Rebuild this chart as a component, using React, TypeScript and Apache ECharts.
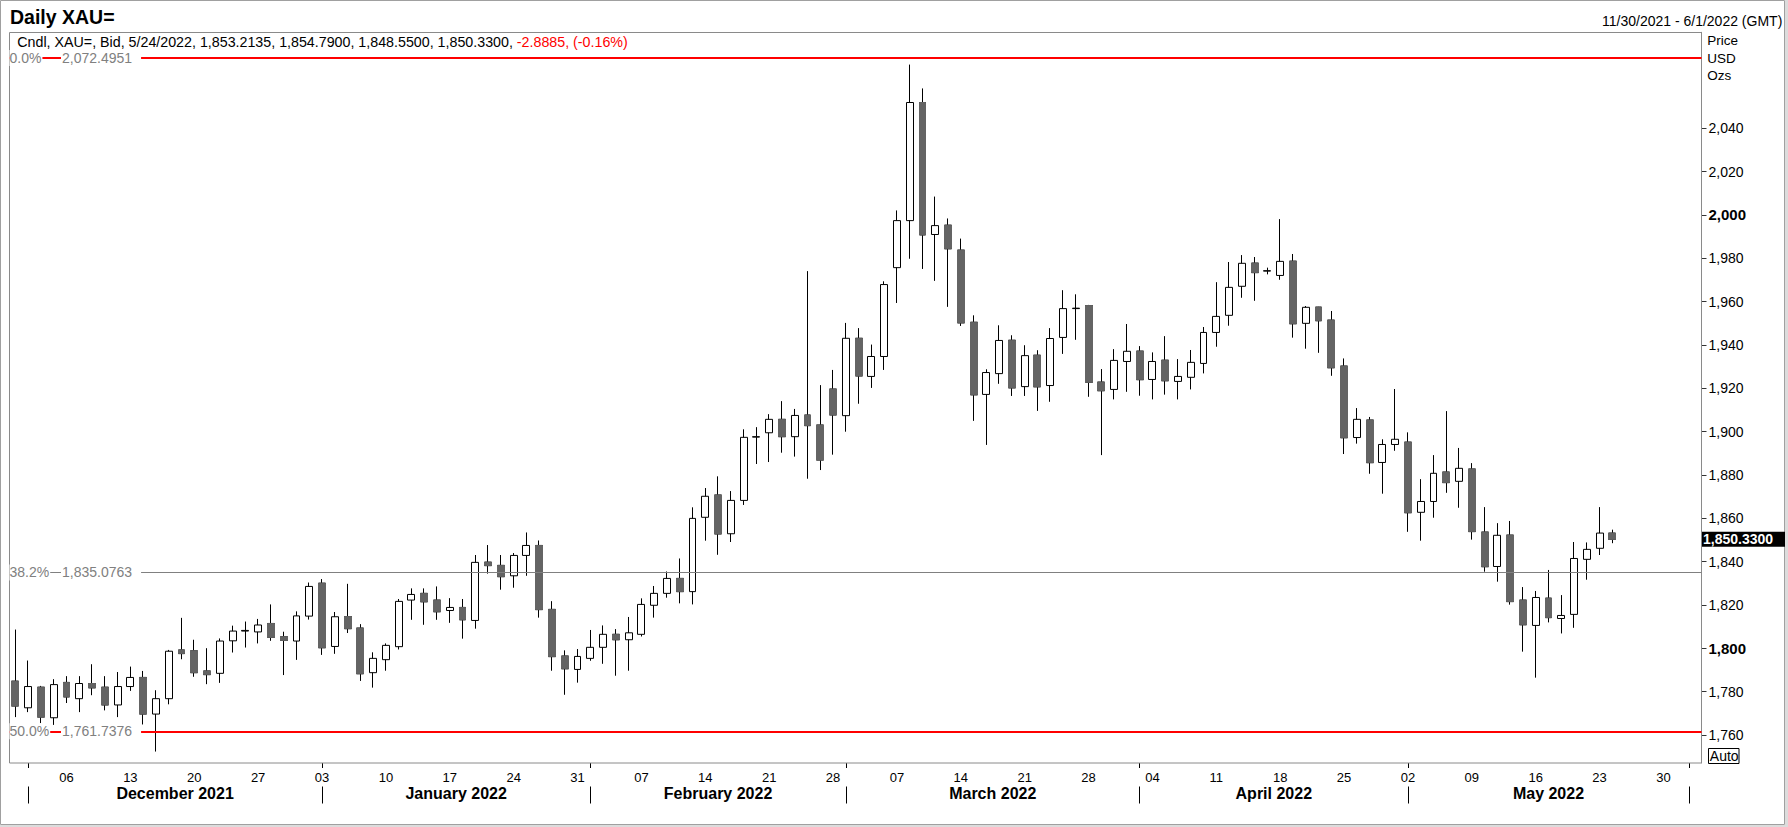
import React, { useEffect, useRef } from 'react';
import * as echarts from 'echarts';

const FONT = "'Liberation Sans', Arial, Helvetica, sans-serif";

// Trading days on the axis (weekdays), by month
const TRADING_DAYS: [string, number[]][] = [
  ['2021-11', [30]],
  ['2021-12', [1, 2, 3, 6, 7, 8, 9, 10, 13, 14, 15, 16, 17, 20, 21, 22, 23, 24, 27, 28, 29, 30, 31]],
  ['2022-01', [3, 4, 5, 6, 7, 10, 11, 12, 13, 14, 17, 18, 19, 20, 21, 24, 25, 26, 27, 28, 31]],
  ['2022-02', [1, 2, 3, 4, 7, 8, 9, 10, 11, 14, 15, 16, 17, 18, 21, 22, 23, 24, 25, 28]],
  ['2022-03', [1, 2, 3, 4, 7, 8, 9, 10, 11, 14, 15, 16, 17, 18, 21, 22, 23, 24, 25, 28, 29, 30, 31]],
  ['2022-04', [1, 4, 5, 6, 7, 8, 11, 12, 13, 14, 15, 18, 19, 20, 21, 22, 25, 26, 27, 28, 29]],
  ['2022-05', [2, 3, 4, 5, 6, 9, 10, 11, 12, 13, 16, 17, 18, 19, 20, 23, 24, 25, 26, 27, 30, 31]],
  ['2022-06', [1]],
];

const MONTH_NAMES: Record<string, string> = {
  '2021-12': 'December 2021',
  '2022-01': 'January 2022',
  '2022-02': 'February 2022',
  '2022-03': 'March 2022',
  '2022-04': 'April 2022',
  '2022-05': 'May 2022',
};

const OPEN = [
  1784.9, 1772.6, 1782.1, 1768.0, 1784.3, 1776.8, 1783.8, 1782.1, 1773.9, 1782.4,
  1786.6, 1769.7, 1776.8, 1799.3, 1798.9, 1789.6, 1788.5, 1803.5, 1808.0, 1807.6,
  1811.5, 1805.4, 1803.4, 1814.9, 1830.1, 1800.9, 1814.7, 1809.4, 1788.8, 1794.8,
  1800.8, 1822.3, 1825.4, 1822.3, 1817.5, 1818.9, 1812.9, 1839.8, 1838.3, 1833.5,
  1842.9, 1847.5, 1818.0, 1796.5, 1790.3, 1795.4, 1800.5, 1806.5, 1804.0, 1806.5,
  1819.9, 1825.4, 1832.3, 1826.2, 1860.5, 1870.8, 1852.9, 1868.3, 1897.5, 1899.5,
  1905.7, 1897.7, 1907.7, 1903.1, 1919.7, 1907.4, 1943.1, 1925.5, 1934.7, 1975.7,
  1997.4, 2051.9, 1991.0, 1995.3, 1983.8, 1950.5, 1917.2, 1926.8, 1942.2, 1920.8,
  1935.3, 1921.3, 1943.5, 1956.8, 1958.2, 1922.9, 1919.5, 1932.4, 1937.2, 1924.1,
  1933.0, 1923.2, 1925.1, 1931.5, 1945.8, 1953.7, 1967.1, 1977.8, 1974.1, 1972.1,
  1978.7, 1950.0, 1957.5, 1951.5, 1930.3, 1897.3, 1905.4, 1885.8, 1894.1, 1895.2,
  1862.8, 1867.8, 1881.4, 1877.1, 1882.8, 1853.7, 1837.8, 1852.3, 1822.3, 1810.6,
  1823.2, 1813.8, 1815.7, 1841.1, 1846.2, 1853.2135,
];

const HIGH = [
  1808.7, 1794.4, 1782.7, 1785.8, 1787.2, 1787.2, 1792.7, 1787.2, 1789.1, 1791.6,
  1789.6, 1780.7, 1799.3, 1814.1, 1804.0, 1800.1, 1804.6, 1810.5, 1812.4, 1813.6,
  1820.3, 1807.7, 1817.1, 1830.4, 1832.0, 1816.8, 1829.8, 1811.2, 1798.2, 1802.3,
  1822.8, 1827.7, 1827.7, 1828.6, 1823.2, 1822.8, 1843.1, 1847.7, 1843.1, 1844.0,
  1853.5, 1849.8, 1821.8, 1799.1, 1799.7, 1808.5, 1810.6, 1808.9, 1814.5, 1823.1,
  1828.8, 1835.5, 1841.5, 1865.1, 1874.0, 1879.4, 1872.6, 1901.1, 1902.1, 1908.1,
  1914.1, 1910.5, 1974.1, 1921.5, 1928.5, 1950.2, 1947.8, 1940.2, 1969.4, 2002.1,
  2069.4, 2058.4, 2008.5, 1998.4, 1989.1, 1953.7, 1928.8, 1949.1, 1944.5, 1939.9,
  1937.6, 1947.8, 1965.3, 1963.4, 1958.5, 1928.9, 1938.1, 1949.7, 1939.5, 1936.6,
  1944.1, 1933.5, 1937.7, 1948.3, 1969.0, 1978.3, 1981.5, 1980.6, 1975.7, 1998.1,
  1982.0, 1958.0, 1957.6, 1955.7, 1933.8, 1910.9, 1906.8, 1896.5, 1919.7, 1899.7,
  1878.1, 1889.2, 1909.5, 1892.5, 1885.5, 1865.2, 1857.8, 1858.8, 1828.3, 1826.5,
  1836.2, 1824.6, 1849.1, 1848.9, 1865.2, 1854.79,
];

const LOW = [
  1768.3, 1770.6, 1765.5, 1764.7, 1774.8, 1770.6, 1778.4, 1771.4, 1768.3, 1780.4,
  1764.9, 1752.4, 1774.2, 1795.0, 1786.9, 1783.5, 1784.1, 1798.1, 1800.4, 1802.3,
  1803.5, 1787.7, 1794.7, 1813.3, 1797.0, 1797.5, 1807.1, 1785.0, 1781.9, 1789.7,
  1799.5, 1813.2, 1810.9, 1813.2, 1811.8, 1804.5, 1809.1, 1834.5, 1827.1, 1828.0,
  1833.5, 1814.2, 1789.7, 1778.6, 1784.2, 1794.3, 1792.9, 1787.4, 1789.7, 1805.5,
  1814.2, 1823.4, 1820.8, 1820.3, 1849.7, 1843.2, 1849.1, 1866.2, 1885.1, 1886.0,
  1890.3, 1888.5, 1878.3, 1882.3, 1889.4, 1900.0, 1912.9, 1920.2, 1928.5, 1959.4,
  1979.8, 1975.1, 1969.6, 1957.6, 1948.8, 1905.0, 1893.9, 1922.1, 1916.5, 1916.5,
  1909.6, 1913.8, 1935.9, 1942.4, 1916.1, 1889.2, 1914.9, 1918.4, 1916.6, 1914.9,
  1917.1, 1914.9, 1919.5, 1926.9, 1939.2, 1948.9, 1961.8, 1960.4, 1972.6, 1970.1,
  1943.4, 1938.3, 1936.4, 1925.8, 1889.7, 1894.5, 1880.6, 1871.4, 1891.2, 1853.8,
  1849.7, 1860.3, 1871.8, 1864.9, 1850.2, 1835.4, 1830.8, 1820.2, 1798.5, 1786.5,
  1812.0, 1806.9, 1809.5, 1831.7, 1843.1, 1848.55,
];

const CLOSE = [
  1773.4, 1782.4, 1768.3, 1783.3, 1777.6, 1783.8, 1781.8, 1773.9, 1782.4, 1786.6,
  1769.7, 1776.8, 1798.7, 1797.6, 1788.8, 1787.9, 1803.4, 1808.0, 1808.3, 1810.8,
  1805.1, 1803.7, 1815.0, 1828.6, 1800.3, 1814.6, 1809.1, 1788.3, 1795.4, 1801.4,
  1821.7, 1824.9, 1821.5, 1816.9, 1818.9, 1813.2, 1839.7, 1838.2, 1833.1, 1842.9,
  1847.5, 1817.9, 1796.2, 1790.6, 1796.3, 1800.5, 1806.5, 1804.0, 1807.2, 1820.3,
  1825.4, 1832.3, 1826.2, 1860.0, 1870.2, 1852.8, 1868.3, 1897.4, 1897.7, 1905.7,
  1897.7, 1907.5, 1902.8, 1886.9, 1907.7, 1943.1, 1925.7, 1934.7, 1967.9, 1997.4,
  2051.9, 1990.8, 1995.1, 1984.4, 1950.2, 1917.0, 1927.3, 1942.1, 1920.2, 1935.1,
  1920.7, 1943.0, 1956.8, 1957.0, 1922.8, 1918.9, 1932.9, 1937.1, 1924.0, 1932.4,
  1923.5, 1925.5, 1932.0, 1945.8, 1953.2, 1966.6, 1977.7, 1973.4, 1974.3, 1978.6,
  1949.8, 1957.4, 1951.2, 1929.5, 1897.2, 1905.7, 1885.7, 1894.1, 1896.5, 1862.6,
  1867.8, 1880.8, 1876.5, 1883.1, 1853.9, 1837.7, 1852.2, 1821.6, 1810.9, 1823.5,
  1814.2, 1815.2, 1841.5, 1845.7, 1853.2185, 1850.33,
];

const Y_TICKS = [1760, 1780, 1800, 1820, 1840, 1860, 1880, 1900, 1920, 1940, 1960, 1980, 2000, 2020, 2040];
const Y_BOLD = [1800, 2000];

const FIB_PCT = ['0.0%', '38.2%', '50.0%'];
const FIB_VALUE = [2072.4951, 1835.0763, 1761.7376];
const FIB_COLOR = ['#ff0000', '#808080', '#ff0000'];
const FIB_WIDTH = [2, 1, 2];

// ---------- derived ----------
const CATEGORIES: string[] = [];
TRADING_DAYS.forEach(([ym, days]) =>
  days.forEach((d) => CATEGORIES.push(`${ym}-${String(d).padStart(2, '0')}`))
);
const MONTH_START: number[] = [];
for (let i = 1; i < CATEGORIES.length; i++) {
  if (CATEGORIES[i].slice(0, 7) !== CATEGORIES[i - 1].slice(0, 7)) MONTH_START.push(i);
}
const MONTH_LABEL: Record<number, { name: string; half: boolean }> = {};
for (let k = 0; k < MONTH_START.length - 1; k++) {
  const s = MONTH_START[k];
  const e = MONTH_START[k + 1];
  const mid = (s + e) / 2;
  MONTH_LABEL[Math.floor(mid)] = {
    name: MONTH_NAMES[CATEGORIES[s].slice(0, 7)] || '',
    half: mid % 1 !== 0,
  };
}
const IS_MONDAY = CATEGORIES.map((c) => new Date(`${c}T00:00:00Z`).getUTCDay() === 1);

function fmt(n: number, dec: number): string {
  const neg = n < 0;
  const s = Math.abs(n).toFixed(dec);
  const [ip, fp] = s.split('.');
  const withComma = ip.replace(/\B(?=(\d{3})+(?!\d))/g, ',');
  return (neg ? '-' : '') + withComma + (fp !== undefined ? '.' + fp : '');
}

const GRID_LEFT = 9;
const GRID_TOP = 32.3;
const GRID_RIGHT_EDGE = 1695.4;
const BOX_RIGHT = 1701.5;
const BOX_BOTTOM = 763;

export default function App() {
  const ref = useRef<HTMLDivElement>(null);

  useEffect(() => {
    if (!ref.current) return;
    const chart = echarts.init(ref.current, null, { renderer: 'svg' });

    const candleData = OPEN.map((o, i) => [o, CLOSE[i], LOW[i], HIGH[i]]);
    const coverData = OPEN.map((o, i) => (CLOSE[i] < o ? [o, CLOSE[i], CLOSE[i], o] : '-'));

    const markLineData = FIB_VALUE.map((v, i) => [
      { yAxis: v, x: GRID_LEFT + 0.5, lineStyle: { color: FIB_COLOR[i], width: FIB_WIDTH[i], type: 'solid' } },
      { yAxis: v, x: BOX_RIGHT },
    ]);

    const n = CLOSE.length;
    const last = CATEGORIES[n - 1];
    const lastDate = `${Number(last.slice(5, 7))}/${Number(last.slice(8, 10))}/${last.slice(0, 4)}`;
    const chg = CLOSE[n - 1] - CLOSE[n - 2];
    const pct = (chg / CLOSE[n - 2]) * 100;
    const headerMain = `Cndl, XAU=, Bid, ${lastDate}, ${fmt(OPEN[n - 1], 4)}, ${fmt(HIGH[n - 1], 4)}, ${fmt(LOW[n - 1], 4)}, ${fmt(CLOSE[n - 1], 4)}, `;
    const headerChg = `${fmt(chg, 4)}, (${pct.toFixed(2)}%)`;

    const option: any = {
      animation: false,
      backgroundColor: '#ffffff',
      textStyle: { fontFamily: FONT },
      grid: {
        left: GRID_LEFT,
        top: GRID_TOP,
        right: 1788 - GRID_RIGHT_EDGE,
        height: BOX_BOTTOM - GRID_TOP,
        containLabel: false,
      },
      xAxis: [
        {
          type: 'category',
          data: CATEGORIES,
          boundaryGap: true,
          position: 'bottom',
          axisLine: { show: false, onZero: false },
          axisTick: {
            show: true,
            alignWithLabel: true,
            length: 5,
            interval: (i: number) => MONTH_START.indexOf(i) >= 0,
            lineStyle: { color: '#000', width: 1 },
          },
          axisLabel: {
            interval: (i: number) => IS_MONDAY[i],
            formatter: (v: string) => v.slice(8, 10),
            margin: 8,
            fontSize: 13,
            fontFamily: FONT,
            color: '#000',
          },
          splitLine: { show: false },
        },
        {
          type: 'category',
          data: CATEGORIES,
          boundaryGap: true,
          position: 'bottom',
          offset: 23.5,
          axisLine: { show: false, onZero: false },
          axisTick: {
            show: true,
            alignWithLabel: true,
            length: 17,
            interval: (i: number) => MONTH_START.indexOf(i) >= 0,
            lineStyle: { color: '#000', width: 1 },
          },
          axisLabel: {
            interval: (i: number) => !!MONTH_LABEL[i],
            formatter: (_v: string, i: number) => {
              const m = MONTH_LABEL[i];
              if (!m) return '';
              return m.half ? `{h|${m.name}}` : `{f|${m.name}}`;
            },
            margin: -1,
            rich: {
              h: { padding: [0, 0, 0, 12.78], fontWeight: 'bold', fontSize: 16, fontFamily: FONT, color: '#000', lineHeight: 16 },
              f: { fontWeight: 'bold', fontSize: 16, fontFamily: FONT, color: '#000', lineHeight: 16 },
            },
          },
          splitLine: { show: false },
        },
      ],
      yAxis: {
        type: 'value',
        position: 'right',
        offset: BOX_RIGHT - GRID_RIGHT_EDGE,
        min: 1747.12,
        max: 2084.3,
        axisLine: { show: true, lineStyle: { color: '#8a8a8a', width: 1 } },
        axisTick: {
          show: true,
          length: 5,
          customValues: Y_TICKS,
          lineStyle: { color: '#333', width: 1 },
        },
        axisLabel: {
          customValues: Y_TICKS,
          margin: 7,
          formatter: (v: number) => (Y_BOLD.indexOf(v) >= 0 ? `{b|${fmt(v, 0)}}` : `{n|${fmt(v, 0)}}`),
          rich: {
            b: { fontWeight: 'bold', fontSize: 15, fontFamily: FONT, color: '#000' },
            n: { fontSize: 14, fontFamily: FONT, color: '#000' },
          },
        },
        splitLine: { show: false },
      },
      series: [
        {
          type: 'candlestick',
          name: 'XAU=',
          data: candleData,
          barWidth: 7.4,
          silent: true,
          itemStyle: {
            color: '#ffffff',
            color0: '#646464',
            borderColor: '#000000',
            borderColor0: '#000000',
            borderWidth: 1,
          },
          markLine: {
            silent: true,
            symbol: ['none', 'none'],
            label: { show: false },
            animation: false,
            data: markLineData,
          },
        },
        {
          type: 'candlestick',
          name: 'bodies',
          data: coverData,
          barWidth: 7.4,
          silent: true,
          z: 3,
          itemStyle: {
            color: '#ffffff',
            color0: '#646464',
            borderColor: '#000000',
            borderColor0: '#646464',
            borderWidth: 1,
          },
        },
      ],
    };

    chart.setOption(option);

    const py = (v: number) => chart.convertToPixel({ yAxisIndex: 0 }, v) as number;

    const txt = (x: number, y: number, text: string, extra: any = {}) => ({
      type: 'text',
      x,
      y,
      z: 100,
      silent: true,
      style: {
        text,
        fill: '#000',
        fontSize: 14,
        fontFamily: FONT,
        align: 'left',
        verticalAlign: 'middle',
        textAlign: 'left',
        textVerticalAlign: 'middle',
        ...extra,
      },
    });

    const elements: any[] = [
      // outer frame
      { type: 'rect', z: 90, silent: true, shape: { x: 1785, y: 0, width: 3, height: 827 }, style: { fill: '#dcdcdc' } },
      { type: 'rect', z: 90, silent: true, shape: { x: 0, y: 825, width: 1788, height: 2 }, style: { fill: '#dcdcdc' } },
      { type: 'rect', z: 91, silent: true, shape: { x: 0.5, y: 0.5, width: 1784, height: 824 }, style: { fill: 'none', stroke: '#a0a0a0', lineWidth: 1 } },
      // plot box
      { type: 'rect', z: 1, silent: true, shape: { x: GRID_LEFT + 0.5, y: 32.5, width: BOX_RIGHT - GRID_LEFT - 0.5, height: BOX_BOTTOM - 32.5 }, style: { fill: 'none', stroke: '#8a8a8a', lineWidth: 1 } },
      // title
      txt(10, 17, 'Daily XAU=', { fontSize: 19.5, fontWeight: 'bold' }),
      // date range
      txt(1782.3, 21.3, '11/30/2021 - 6/1/2022 (GMT)', { align: 'right', textAlign: 'right' }),
      // header line
      {
        type: 'text',
        x: 17.3,
        y: 42,
        z: 100,
        silent: true,
        style: {
          text: `{k|${headerMain}}{r|${headerChg}}`,
          verticalAlign: 'middle',
          textVerticalAlign: 'middle',
          rich: {
            k: { fill: '#000', color: '#000', fontSize: 14.25, fontFamily: FONT },
            r: { fill: '#ff0000', color: '#ff0000', fontSize: 14.25, fontFamily: FONT },
          },
        },
      },
      // units
      txt(1707.3, 40.5, 'Price', { fontSize: 13.5 }),
      txt(1707.3, 58.3, 'USD', { fontSize: 13.5 }),
      txt(1707.3, 75.7, 'Ozs', { fontSize: 13.5 }),
      // Auto box
      { type: 'rect', z: 100, silent: true, shape: { x: 1708.5, y: 748.5, width: 30.5, height: 15 }, style: { fill: '#fff', stroke: '#000', lineWidth: 1 } },
      txt(1709.8, 756.2, 'Auto'),
    ];

    FIB_VALUE.forEach((v, i) => {
      const y = py(v);
      elements.push(txt(GRID_LEFT + 0.5, y, FIB_PCT[i], { fill: '#808080', backgroundColor: '#fff', padding: [1, 1, 1, 0] }));
      elements.push(txt(61, y, fmt(v, 4), { fill: '#808080', backgroundColor: '#fff', padding: [1, 9, 1, 1] }));
    });

    const yLast = py(CLOSE[n - 1]);
    elements.push({
      type: 'rect',
      z: 100,
      silent: true,
      shape: { x: 1702, y: yLast - 7.5, width: 83, height: 15 },
      style: { fill: '#000' },
    });
    elements.push(txt(1703, yLast, fmt(CLOSE[n - 1], 4), { fill: '#fff', fontWeight: 'bold' }));

    chart.setOption({ graphic: { elements } });

    return () => chart.dispose();
  }, []);

  return (
    <div style={{ position: 'fixed', left: 0, top: 0, width: 1788, height: 827, background: '#fff' }}>
      <div ref={ref} style={{ width: 1788, height: 827 }} />
    </div>
  );
}
